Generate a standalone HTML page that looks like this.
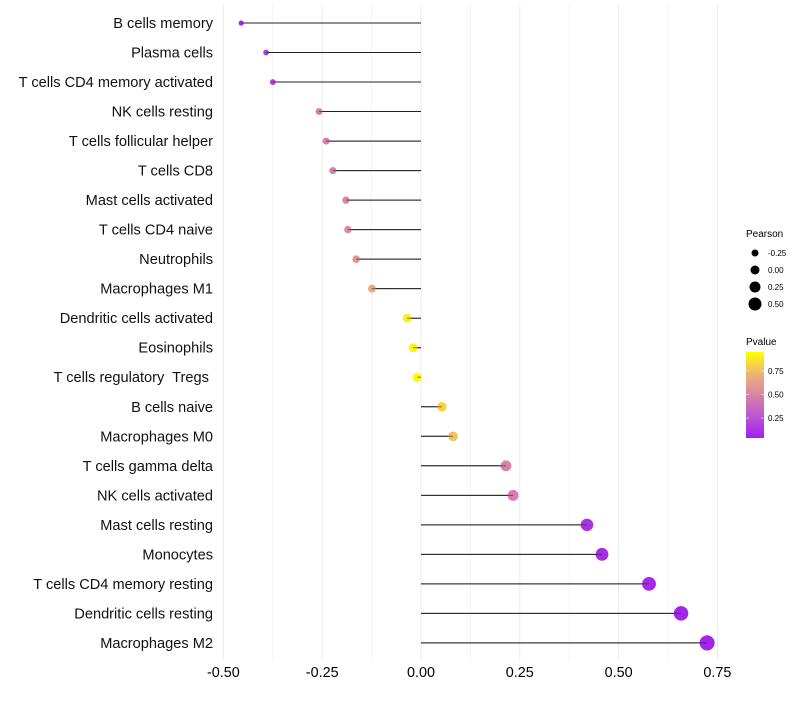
<!DOCTYPE html>
<html><head><meta charset="utf-8"><style>
body{margin:0;background:#fff;font-family:"Liberation Sans",sans-serif}
</style></head><body>
<svg id="c" width="800" height="700">
<defs><linearGradient id="pg" x1="0" y1="1" x2="0" y2="0">
<stop offset="0" stop-color="#a020f0"/><stop offset="0.25" stop-color="#bd55d0"/>
<stop offset="0.5" stop-color="#d884a8"/><stop offset="0.75" stop-color="#eeb474"/><stop offset="1" stop-color="#ffff00"/></linearGradient></defs>
</svg>
<script>
const cells=["B cells memory","Plasma cells","T cells CD4 memory activated","NK cells resting","T cells follicular helper","T cells CD8","Mast cells activated","T cells CD4 naive","Neutrophils","Macrophages M1","Dendritic cells activated","Eosinophils","T cells regulatory  Tregs ","B cells naive","Macrophages M0","T cells gamma delta","NK cells activated","Mast cells resting","Monocytes","T cells CD4 memory resting","Dendritic cells resting","Macrophages M2"];
const pearson=[-0.455,-0.392,-0.375,-0.258,-0.240,-0.223,-0.190,-0.185,-0.164,-0.124,-0.035,-0.020,-0.010,0.053,0.081,0.215,0.233,0.420,0.458,0.577,0.658,0.724];
const pvalue=[0.06,0.12,0.14,0.47,0.48,0.5,0.53,0.55,0.6,0.7,0.95,0.97,0.99,0.85,0.8,0.5,0.47,0.09,0.06,0.04,0.03,0.02];
const xTicks=[-0.5,-0.25,0,0.25,0.5,0.75];
const ns="http://www.w3.org/2000/svg",svg=document.getElementById('c');
const X=v=>421+v*395.2, Y=i=>23+i*29.52;
const R=v=>4.5+v*4.2;
function col(p){const s=[[0,[160,32,240]],[0.25,[189,85,208]],[0.5,[216,132,168]],[0.75,[238,180,116]],[1,[255,255,0]]];
for(let i=1;i<s.length;i++){if(p<=s[i][0]){const t=(p-s[i-1][0])/(s[i][0]-s[i-1][0]);const c=s[i-1][1].map((a,k)=>Math.round(a+(s[i][1][k]-a)*t));return `rgb(${c})`;}}return 'rgb(255,255,0)';}
function mk(t,a){const e=document.createElementNS(ns,t);for(const k in a)e.setAttribute(k,a[k]);svg.appendChild(e);return e;}
for(let v=-0.5;v<=0.751;v+=0.125){const g=mk('line',{x1:X(v),x2:X(v),y1:5,y2:660,stroke:'#ebebeb','stroke-width':Math.abs((v*8)%2)<0.01?1:0.6});

}
xTicks.forEach(v=>{const t=mk('text',{x:X(v),y:677,'text-anchor':'middle','font-size':14.4,fill:'#000'});t.textContent=v.toFixed(2);

});
cells.forEach((c,i)=>{const y=Y(i);
const t=mk('text',{x:213,y:y+5,'text-anchor':'end','font-size':14.6,fill:'#111',style:'white-space:pre'});t.textContent=c;


const l=mk('line',{x1:X(0),x2:X(pearson[i]),y1:y,y2:y,stroke:'#222','stroke-width':1});


const d=mk('circle',{cx:X(pearson[i]),cy:y,r:R(pearson[i]),fill:col(pvalue[i])});


const l2=mk('line',{x1:X(0),x2:X(pearson[i]),y1:y,y2:y,stroke:'#222','stroke-width':1,'stroke-opacity':0.6});

});
const lt=mk('text',{x:746,y:237,'font-size':10});lt.textContent='Pearson';


[-0.25,0,0.25,0.5].forEach((v,i)=>{const y=253+i*17;const c=mk('circle',{cx:755,cy:y,r:3.5+i,fill:'#000'});


const t=mk('text',{x:768,y:y+3,'font-size':8});t.textContent=v.toFixed(2);

});
const pt=mk('text',{x:746,y:345,'font-size':10});pt.textContent='Pvalue';


const cb=mk('rect',{x:746,y:352,width:18,height:86,fill:'url(#pg)'});


[0.75,0.5,0.25].forEach(v=>{const y=441.5-v*94;const t=mk('text',{x:768,y:y+3,'font-size':8});t.textContent=v.toFixed(2);


mk('line',{x1:746,x2:749,y1:y,y2:y,stroke:'#fff','stroke-width':0.5});mk('line',{x1:761,x2:764,y1:y,y2:y,stroke:'#fff','stroke-width':0.5});});
</script>
</body></html>
